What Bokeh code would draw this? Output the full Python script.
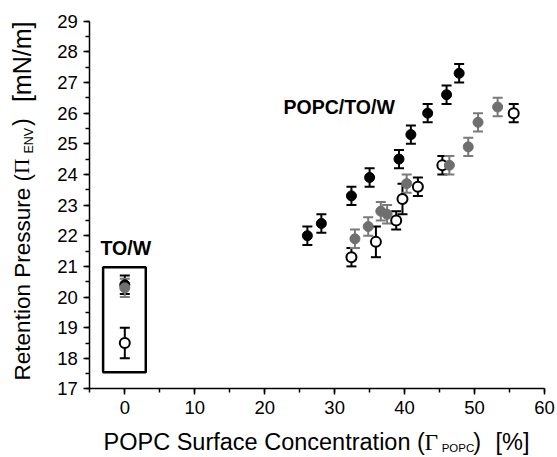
import numpy as np
from bokeh.plotting import figure
from bokeh.models import (ColumnDataSource, Whisker, TeeHead, Range1d, SingleIntervalTicker,
                          Label, BoxAnnotation, LinearAxis)
from bokeh.embed import file_html
from bokeh.resources import INLINE

# ---------------- data ----------------
black_x = [0, 26.1, 28.1, 32.4, 35.0, 39.2, 40.9, 43.3, 46.0, 47.8]
black_y = [20.4, 22.0, 22.4, 23.3, 23.9, 24.5, 25.3, 26.0, 26.6, 27.3]
black_err = [0.3, 0.3, 0.3, 0.3, 0.3, 0.3, 0.3, 0.3, 0.3, 0.3]

gray_x = [0, 32.9, 34.8, 36.6, 37.5, 40.3, 46.4, 49.1, 50.5, 53.3]
gray_y = [20.3, 21.9, 22.3, 22.8, 22.7, 23.7, 24.3, 24.9, 25.7, 26.2]
gray_err = [0.3, 0.3, 0.3, 0.3, 0.3, 0.3, 0.3, 0.3, 0.3, 0.3]

open_x = [0, 32.4, 35.9, 38.8, 39.7, 41.9, 45.4, 55.6]
open_y = [18.5, 21.3, 21.8, 22.5, 23.2, 23.6, 24.3, 26.0]
open_err = [0.5, 0.3, 0.5, 0.3, 0.5, 0.3, 0.3, 0.3]

x_axis_bounds = (-5, 60)
y_axis_bounds = (17, 29)

GRAY = "#6f6f6f"
GRAY_BAR = "#7a7a7a"
FONT = "Liberation Sans"
SERIF = "Liberation Serif"

# frame covers the whole canvas; axes are pinned at fixed locations inside it
p = figure(width=557, height=457, output_backend="svg", toolbar_location=None,
           x_range=Range1d(-17.77, 61.86), y_range=Range1d(14.765, 29.675),
           x_axis_location=None, y_axis_location=None,
           min_border_left=0, min_border_right=0, min_border_top=0, min_border_bottom=0)
p.outline_line_color = None
p.grid.visible = False
p.background_fill_color = "white"
p.border_fill_color = "white"

xax = LinearAxis(fixed_location=y_axis_bounds[0], bounds=x_axis_bounds,
                 ticker=SingleIntervalTicker(interval=10, num_minor_ticks=2))
yax = LinearAxis(fixed_location=x_axis_bounds[0], bounds=y_axis_bounds,
                 ticker=SingleIntervalTicker(interval=1, num_minor_ticks=2))
for ax in (xax, yax):
    ax.axis_line_width = 1.5
    ax.axis_line_color = "black"
    ax.major_tick_line_width = 1.5
    ax.minor_tick_line_width = 1.5
    ax.major_tick_line_color = "black"
    ax.minor_tick_line_color = "black"
    ax.major_tick_out = 6
    ax.major_tick_in = 0
    ax.minor_tick_out = 4
    ax.minor_tick_in = 0
    ax.major_label_text_font = FONT
    ax.major_label_text_font_size = "18.5px"
    ax.major_label_text_color = "black"
    ax.major_label_standoff = 6
p.add_layout(xax, "below")
p.add_layout(yax, "left")

# rectangle around TO/W
p.add_layout(BoxAnnotation(left=-3.1, right=3.0, bottom=17.55, top=20.97,
                           fill_alpha=0, line_color="black", line_alpha=1.0, line_width=2.5))


def series(xs, ys, errs, fill, line, bar_color, lw):
    src = ColumnDataSource(dict(x=xs, y=ys,
                                lo=[a - b for a, b in zip(ys, errs)],
                                hi=[a + b for a, b in zip(ys, errs)]))
    w = Whisker(base="x", lower="lo", upper="hi", source=src, dimension="height",
                line_color=bar_color, line_width=2, level="underlay",
                upper_head=TeeHead(size=10, line_color=bar_color, line_width=2),
                lower_head=TeeHead(size=10, line_color=bar_color, line_width=2))
    p.add_layout(w)
    p.scatter("x", "y", source=src, size=10, fill_color=fill, line_color=line, line_width=lw)


series(black_x, black_y, black_err, "black", "black", "black", 1)
series(open_x, open_y, open_err, "white", "black", "black", 2)
series(gray_x, gray_y, gray_err, GRAY, GRAY, GRAY_BAR, 1)


def txt(x, y, s, size, font=FONT, bold=False, angle=0.0):
    p.add_layout(Label(x=x, y=y, text=s, text_font=font, angle=angle,
                       text_font_style="bold" if bold else "normal",
                       text_font_size=size, text_color="black", text_baseline="alphabetic"))


# in-plot text
txt(22.7, 26.21, "POPC/TO/W", "19.5px", bold=True)
txt(-3.47, 21.61, "TO/W", "19.5px", bold=True)

# x-axis title pieces
xt_y = 15.26
txt(-3.04, xt_y, "POPC Surface Concentration (", "23.5px")
txt(42.85, xt_y, "Γ", "23.5px", font=SERIF)
txt(45.3, 15.09, "POPC", "11.5px")
txt(49.8, xt_y, ")", "23.5px")
txt(53.0, xt_y, "[%]", "23.5px")

# y-axis title pieces (rotated)
ang = np.pi / 2
yt_x = -14.63
txt(yt_x, 17.28, "Retention Pressure (", "22.5px", angle=ang)
txt(yt_x, 24.02, "Π", "21px", font=SERIF, angle=ang)
txt(-13.76, 24.68, "ENV", "12.5px", angle=ang)
txt(yt_x, 25.58, ")", "23.5px", angle=ang)
txt(yt_x, 26.36, "[mN/m]", "25px", angle=ang)

open("out.html", "w").write(file_html(p, INLINE))
